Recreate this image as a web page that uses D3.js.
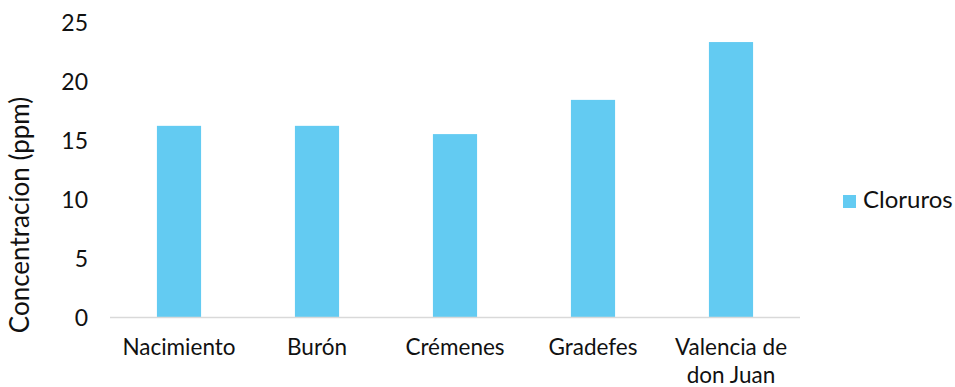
<!DOCTYPE html>
<html>
<head>
<meta charset="utf-8">
<script src="https://cdn.jsdelivr.net/npm/d3@7"></script>
<style>
  body { margin: 0; background: #fff; }
  svg text { font-family: Lato, "Open Sans", sans-serif; fill: #111; }
</style>
</head>
<body>
<div id="chart"></div>
<script>
// Data
const categories = ['Nacimiento', 'Burón', 'Crémenes', 'Gradefes', 'Valencia de don Juan'];
const cloruros = [16.2, 16.2, 15.5, 18.4, 23.3];
const yTicks = [0, 5, 10, 15, 20, 25];
const seriesName = 'Cloruros';

const width = 955, height = 387;
const margin = { top: 22, right: 155, bottom: 70, left: 110 };

const svg = d3.select('#chart')
    .append('svg')
    .attr('width', width)
    .attr('height', height);

const x = d3.scaleBand()
    .domain(categories)
    .range([margin.left, width - margin.right])
    .paddingInner(0.68)
    .paddingOuter(0.34);

const y = d3.scaleLinear()
    .domain([0, 25])
    .range([height - margin.bottom, margin.top]);

// y tick labels
svg.append('g')
    .attr('transform', `translate(${margin.left},0)`)
    .call(d3.axisLeft(y).tickValues(yTicks).tickSize(0).tickPadding(22))
    .call(g => g.select('.domain').remove())
    .call(g => g.selectAll('text')
        .attr('font-size', 23)
        .attr('dy', '0.36em')
        .style('font-family', 'Lato, sans-serif')
        .style('fill', '#111'));

// bars
svg.append('g')
    .selectAll('rect')
    .data(categories)
    .enter().append('rect')
    .attr('x', d => x(d))
    .attr('width', x.bandwidth())
    .attr('y', (d, i) => y(cloruros[i]))
    .attr('height', (d, i) => y(0) - y(cloruros[i]))
    .attr('fill', '#63cbf2');

// baseline
svg.append('line')
    .attr('x1', margin.left)
    .attr('x2', width - margin.right)
    .attr('y1', y(0) + 0.5)
    .attr('y2', y(0) + 0.5)
    .attr('stroke', '#d9d9d9')
    .attr('stroke-width', 1.5);

// category labels (wrap the long one like the original)
const catLines = d => d === 'Valencia de don Juan' ? ['Valencia de', 'don Juan'] : [d];
const catLabels = svg.append('g');
categories.forEach(d => {
    catLines(d).forEach((line, i) => {
        catLabels.append('text')
            .attr('text-anchor', 'middle')
            .attr('font-size', 22.5)
            .attr('x', x(d) + x.bandwidth() / 2)
            .attr('y', 355 + i * 27.5)
            .text(line);
    });
});

// y axis title
svg.append('text')
    .attr('transform', 'translate(29, 215) rotate(-90)')
    .attr('text-anchor', 'middle')
    .attr('font-size', 26)
    .text('Concentracíon (ppm)');

// legend
const legend = svg.append('g').attr('transform', 'translate(843, 195)');
legend.append('rect')
    .attr('width', 13)
    .attr('height', 13)
    .attr('fill', '#63cbf2');
legend.append('text')
    .attr('x', 20)
    .attr('y', 13)
    .attr('font-size', 24)
    .text(seriesName);
</script>
</body>
</html>
